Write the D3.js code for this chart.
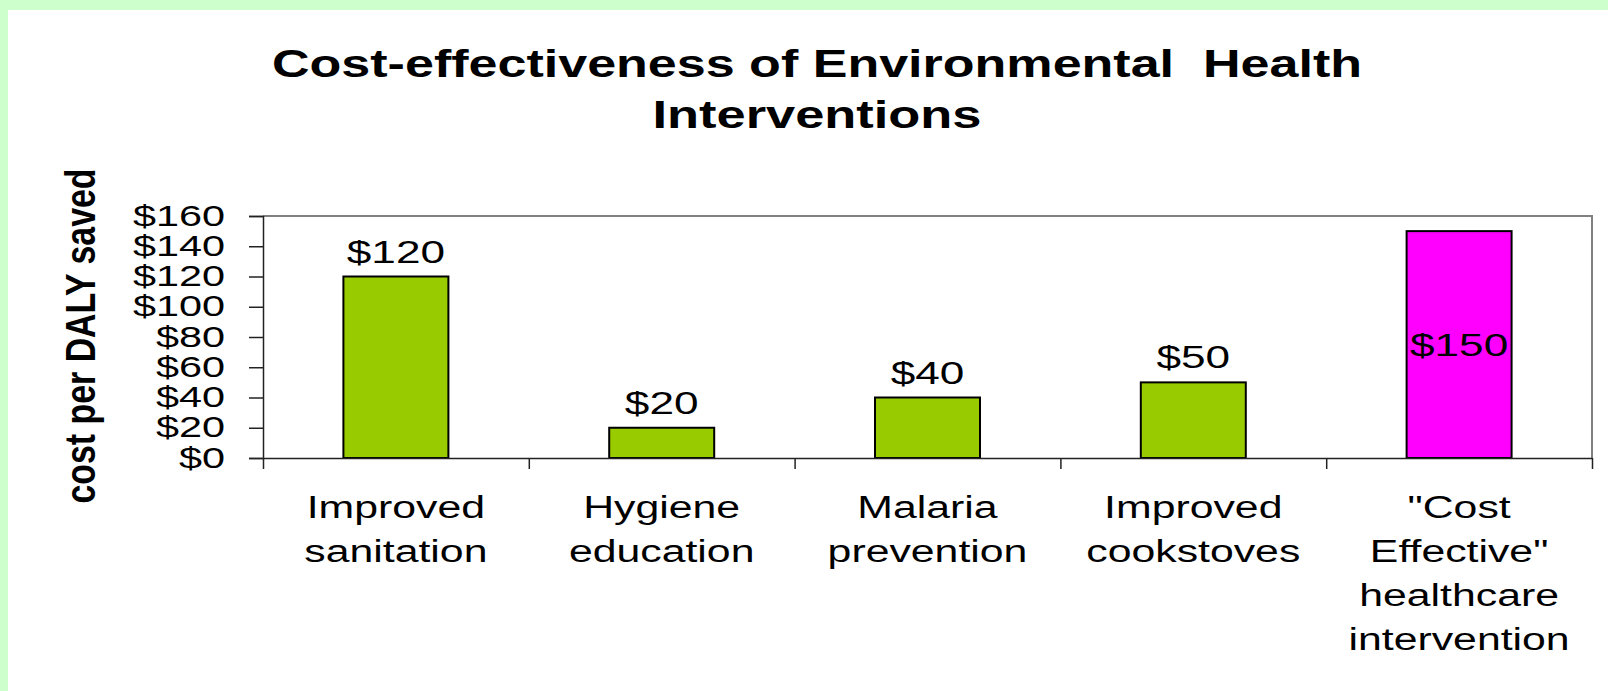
<!DOCTYPE html>
<html>
<head>
<meta charset="utf-8">
<script src="https://cdn.jsdelivr.net/npm/d3@7"></script>
<style>
  html, body { margin: 0; padding: 0; background: #CCFFCC; }
  svg { display: block; }
  text { font-family: "Liberation Sans", Arial, Helvetica, sans-serif; fill: #000; }
</style>
</head>
<body>
<svg id="chart" width="1608" height="691"></svg>
<script>
// ---- Data ----
const titleLines = ["Cost-effectiveness of Environmental  Health", "Interventions"];
const yAxisTitle = "cost per DALY saved";
const categories = [
  ["Improved", "sanitation"],
  ["Hygiene", "education"],
  ["Malaria", "prevention"],
  ["Improved", "cookstoves"],
  ["\"Cost", "Effective\"", "healthcare", "intervention"]
];
const values = [120, 20, 40, 50, 150];
const yTicks = [0, 20, 40, 60, 80, 100, 120, 140, 160];

// ---- Style ----
const W = 1608, H = 691;
const margin = { left: 263, right: 1592, top: 216, bottom: 458 };
const barColor = "#99CC00";
const highlightColor = "#FF00FF";
const highlightIndex = 4;
const hStretch = 1.38;

const svg = d3.select("#chart");

function stretch(sel, f) {
  sel.each(function () {
    const w = this.getComputedTextLength();
    this.setAttribute("textLength", w * f);
    this.setAttribute("lengthAdjust", "spacingAndGlyphs");
  });
}

// background panel
svg.append("rect").attr("x", 0).attr("y", 0).attr("width", W).attr("height", H).attr("fill", "#CCFFCC");
svg.append("rect").attr("x", 8).attr("y", 10).attr("width", W - 8).attr("height", H - 10).attr("fill", "#FFFFFF");

// scales
const x = d3.scaleBand()
  .domain(d3.range(categories.length))
  .range([margin.left, margin.right])
  .paddingInner(0).paddingOuter(0);
const barW = x.bandwidth() * 0.395;
const y = d3.scaleLinear().domain([0, 160]).range([margin.bottom, margin.top]);

// plot frame (grey top & right)
svg.append("path")
  .attr("d", `M${margin.left},${margin.top}H${margin.right}V${margin.bottom}`)
  .attr("fill", "none").attr("stroke", "#808080").attr("stroke-width", 2);

// bars
svg.append("g").selectAll("rect")
  .data(values)
  .join("rect")
  .attr("x", (d, i) => x(i) + (x.bandwidth() - barW) / 2)
  .attr("y", d => y(d))
  .attr("width", barW)
  .attr("height", d => y(0) - y(d))
  .attr("fill", (d, i) => i === highlightIndex ? highlightColor : barColor)
  .attr("stroke", "#000")
  .attr("stroke-width", 2);

// y axis
const yAxis = d3.axisLeft(y).tickValues(yTicks).tickSize(14).tickPadding(24)
  .tickFormat(d => "$" + d);
const gy = svg.append("g").attr("transform", `translate(${margin.left},0)`).call(yAxis);
gy.select(".domain").attr("stroke", "#222").attr("stroke-width", 1.5);
gy.selectAll(".tick line").attr("stroke", "#222").attr("stroke-width", 1.5);
gy.selectAll(".tick text")
  .attr("font-size", 30)
  .attr("font-family", "Liberation Sans, Arial, sans-serif")
  .attr("dy", "0.3em")
  .call(stretch, hStretch);

// x axis baseline + ticks at band boundaries
const xBound = d3.scaleLinear().domain([0, categories.length]).range([margin.left, margin.right]);
const xAxis = d3.axisBottom(xBound).tickValues(d3.range(categories.length + 1))
  .tickSize(11).tickSizeOuter(0).tickFormat("");
const gx = svg.append("g").attr("transform", `translate(0,${margin.bottom})`).call(xAxis);
gx.select(".domain").attr("stroke", "#222").attr("stroke-width", 1.5);
gx.selectAll(".tick line").attr("stroke", "#222").attr("stroke-width", 1.5);

// category labels
const catG = svg.append("g");
categories.forEach((lines, i) => {
  const t = catG.append("text")
    .attr("text-anchor", "middle")
    .attr("font-size", 31);
  lines.forEach((ln, j) => {
    t.append("tspan")
      .attr("x", x(i) + x.bandwidth() / 2)
      .attr("y", 518 + j * 44)
      .text(ln);
  });
  t.selectAll("tspan").call(stretch, hStretch);
});

// value labels
svg.append("g").selectAll("text")
  .data(values)
  .join("text")
  .attr("text-anchor", "middle")
  .attr("font-size", 32)
  .attr("x", (d, i) => x(i) + x.bandwidth() / 2)
  .attr("y", (d, i) => i === highlightIndex ? (y(d) + y(0)) / 2 + 11 : y(d) - 14)
  .text(d => "$" + d)
  .call(stretch, hStretch);

// title
const titleWidths = [1090, 329];
titleLines.forEach((ln, i) => {
  svg.append("text")
    .attr("x", 817)
    .attr("y", 77 + i * 51)
    .attr("text-anchor", "middle")
    .attr("font-size", 39)
    .attr("font-weight", "bold")
    .style("white-space", "pre")
    .attr("xml:space", "preserve")
    .attr("textLength", titleWidths[i])
    .attr("lengthAdjust", "spacingAndGlyphs")
    .text(ln);
});

// y axis title
svg.append("text")
  .attr("transform", `translate(95,${(margin.top + margin.bottom) / 2 - 1}) rotate(-90)`)
  .attr("text-anchor", "middle")
  .attr("font-size", 42)
  .attr("font-weight", "bold")
  .attr("textLength", 335)
  .attr("lengthAdjust", "spacingAndGlyphs")
  .text(yAxisTitle);
</script>
</body>
</html>
